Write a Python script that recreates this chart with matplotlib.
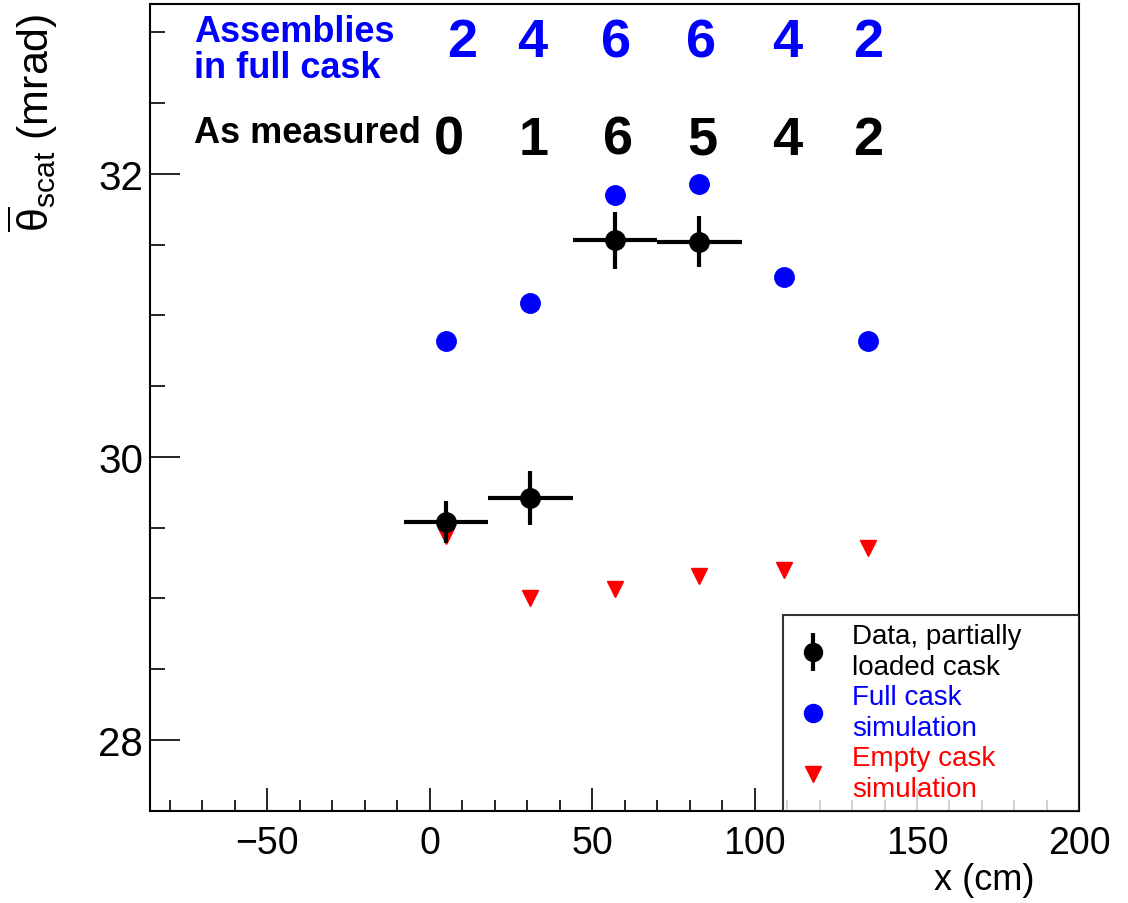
import matplotlib
matplotlib.use("Agg")
import matplotlib.pyplot as plt
from matplotlib.lines import Line2D
import numpy as np

plt.rcParams['font.family'] = ['Liberation Sans', 'DejaVu Sans']
plt.rcParams['mathtext.fontset'] = 'custom'
plt.rcParams['mathtext.rm'] = 'Liberation Sans'
plt.rcParams['mathtext.it'] = 'Liberation Sans'

# data
x_pos = [5, 31, 57, 83, 109, 135]
data_x = [5, 31, 57, 83]
data_y = [29.54, 29.71, 31.53, 31.52]
data_yerr = [0.15, 0.19, 0.20, 0.18]
data_xerr = [13, 13, 13, 13]
full_sim = [30.82, 31.09, 31.85, 31.93, 31.27, 30.82]
empty_sim = [29.44, 29.00, 29.07, 29.16, 29.20, 29.36]
full_counts = ['2', '4', '6', '6', '4', '2']
meas_counts = ['0', '1', '6', '5', '4', '2']
full_count_x = [10, 31.5, 57.5, 83.5, 110, 135]
meas_count_x = [6, 32, 58, 84, 110, 135]

fig = plt.figure(figsize=(11.28, 9.04), dpi=100)
ax = fig.add_axes([0.133, 0.102, 0.824, 0.8925])

ax.errorbar(data_x, data_y, xerr=data_xerr, yerr=data_yerr, fmt='o', color='k',
            markersize=14, elinewidth=3, capsize=0, zorder=3)
ax.plot(x_pos, full_sim, 'o', color='#0000ff', markersize=14, linestyle='none', zorder=2)
ax.plot(x_pos, empty_sim, 'v', color='#ff0000', markersize=12, linestyle='none', zorder=2)

ax.set_xlim(-86, 200)
ax.set_ylim(27.5, 33.2)
ax.set_xticks([-50, 0, 50, 100, 150, 200])
ax.set_xticks(np.arange(-80, 200, 10), minor=True)
ax.set_yticks([28, 30, 32])
ax.set_yticks(np.arange(28.5, 33.1, 0.5), minor=True)
ax.tick_params(which='both', direction='in', top=False, right=False, width=1.2)
ax.tick_params(axis='x', which='major', length=16.5, labelsize=27, pad=10)
ax.tick_params(axis='x', which='minor', length=8)
ax.tick_params(axis='y', which='major', length=21.5, labelsize=29, pad=5)
ax.tick_params(axis='y', which='minor', length=11)
ax.set_xticklabels(['\u221250', '0', '50', '100', '150', '200'])
for s in ax.spines.values():
    s.set_linewidth(1.5)

ax.set_xlabel('x (cm)', fontsize=26, loc='right')
ax.xaxis.set_label_coords(0.952, -0.063)
ax.set_ylabel(r'$\overline{\theta}_{\rm scat}$ (mrad)', fontsize=31, loc='top')
ax.yaxis.set_label_coords(-0.097, 0.99)

# annotation rows
ax.text(-72.5, 33.13, 'Assemblies\nin full cask', color='#0000ff', fontsize=26,
        fontweight='bold', va='top', ha='left', linespacing=1.05)
ax.text(-72.5, 32.29, 'As measured', color='k', fontsize=26, fontweight='bold',
        va='center', ha='left')
for xx, t in zip(full_count_x, full_counts):
    ax.text(xx, 32.93, t, color='#0000ff', fontsize=39, fontweight='bold', ha='center', va='center')
for xx, t in zip(meas_count_x, meas_counts):
    ax.text(xx, 32.24, t, color='k', fontsize=39, fontweight='bold', ha='center', va='center')

# legend
h_data = (Line2D([], [], marker='|', markersize=27, mew=3, color='k', linestyle='none'),
          Line2D([], [], marker='o', markersize=13, color='k', linestyle='none'))
h_full = Line2D([], [], marker='o', markersize=13, color='#0000ff', linestyle='none')
h_empty = Line2D([], [], marker='v', markersize=12, color='#ff0000', linestyle='none')
leg = ax.legend([h_data, h_full, h_empty],
                ['Data, partially\nloaded cask', 'Full cask\nsimulation', 'Empty cask\nsimulation'],
                loc='lower left', bbox_to_anchor=((783 - 150) / 930, 0.0, (1080 - 783) / 930, 0.2),
                mode='expand', fontsize=20, frameon=True,
                fancybox=False, borderaxespad=0, borderpad=0.3, labelspacing=0.15,
                handlelength=1.6, handletextpad=0.6, edgecolor='k')
leg.get_frame().set_linewidth(1.5)
for txt, c in zip(leg.get_texts(), ['k', '#0000ff', '#ff0000']):
    txt.set_color(c)
    txt.set_linespacing(1.25)

fig.savefig('out.png', dpi=100)
